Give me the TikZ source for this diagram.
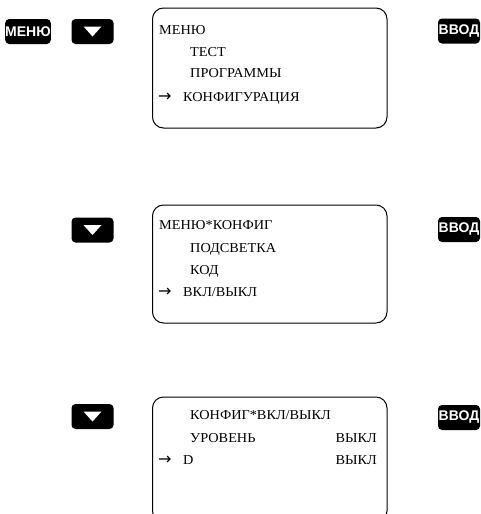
\documentclass[tikz,border=0pt]{standalone}
\usepackage{fontspec}
\setmainfont{Liberation Serif}
\newfontfamily\scrfont[FakeStretch=1.05]{Liberation Serif}
\newfontfamily\btnfont{Liberation Sans}
\newfontfamily\arrfont{DejaVu Sans}
\tikzset{
  keybtn/.style={fill=black, rounded corners=4pt, minimum width=42pt, minimum height=25pt, inner sep=0pt, text=white, font=\btnfont\bfseries\fontsize{14}{14}\selectfont},
  screen/.style={draw=black, line width=1pt, rounded corners=11pt},
  ltxt/.style={anchor=base west, inner sep=0pt, font=\scrfont\fontsize{13.6}{14}\selectfont},
  rtxt/.style={anchor=base east, inner sep=0pt, font=\scrfont\fontsize{13.6}{14}\selectfont},
  arr/.style={anchor=base west, inner sep=0pt, font=\arrfont\fontsize{16}{16}\selectfont},
}
\begin{document}
\begin{tikzpicture}[x=1pt,y=-1pt]
\clip (0,0) rectangle (480,514);
\fill[white] (0,0) rectangle (480,514);

% row 1
\node[keybtn] (menu) at (28,31.5) {МЕНЮ};
\node[keybtn] (down1) at (92.5,31.5) {};
\fill[white] ([xshift=-9pt,yshift=5pt]down1.center) -- ([xshift=9pt,yshift=5pt]down1.center) -- ([yshift=-5pt]down1.center) -- cycle;
\node[keybtn] (enter1) at (459,31) {ВВОД};
\draw[screen] (152.5,8) rectangle (387,128);
\node[ltxt] (t11) at (159,34) {МЕНЮ};
\node[ltxt] (t12) at (190,56) {ТЕСТ};
\node[ltxt] (t13) at (190,77.5) {ПРОГРАММЫ};
\node[arr] (a1) at (158,101) {→};
\node[ltxt] (t14) at (183,101) {КОНФИГУРАЦИЯ};

% row 2
\node[keybtn] (down2) at (92.5,230) {};
\fill[white] ([xshift=-9pt,yshift=5pt]down2.center) -- ([xshift=9pt,yshift=5pt]down2.center) -- ([yshift=-5pt]down2.center) -- cycle;
\node[keybtn] (enter2) at (459,229.5) {ВВОД};
\draw[screen] (152.5,205) rectangle (387,323);
\node[ltxt] (t21) at (159,229) {МЕНЮ*КОНФИГ};
\node[ltxt] (t22) at (190,252.5) {ПОДСВЕТКА};
\node[ltxt] (t23) at (190,274) {КОД};
\node[arr] (a2) at (158,296) {→};
\node[ltxt] (t24) at (183,296) {ВКЛ/ВЫКЛ};

% row 3
\node[keybtn] (down3) at (92.5,416.5) {};
\fill[white] ([xshift=-9pt,yshift=5pt]down3.center) -- ([xshift=9pt,yshift=5pt]down3.center) -- ([yshift=-5pt]down3.center) -- cycle;
\node[keybtn] (enter3) at (459,417.5) {ВВОД};
\draw[screen] (152.5,397) rectangle (387,522);
\node[ltxt] (t31) at (190,419) {КОНФИГ*ВКЛ/ВЫКЛ};
\node[ltxt] (t32) at (190,442) {УРОВЕНЬ};
\node[rtxt] (t33) at (377,442) {ВЫКЛ};
\node[arr] (a3) at (158,464) {→};
\node[ltxt] (t34) at (183,464) {D};
\node[rtxt] (t35) at (377,464) {ВЫКЛ};
\end{tikzpicture}
\end{document}
